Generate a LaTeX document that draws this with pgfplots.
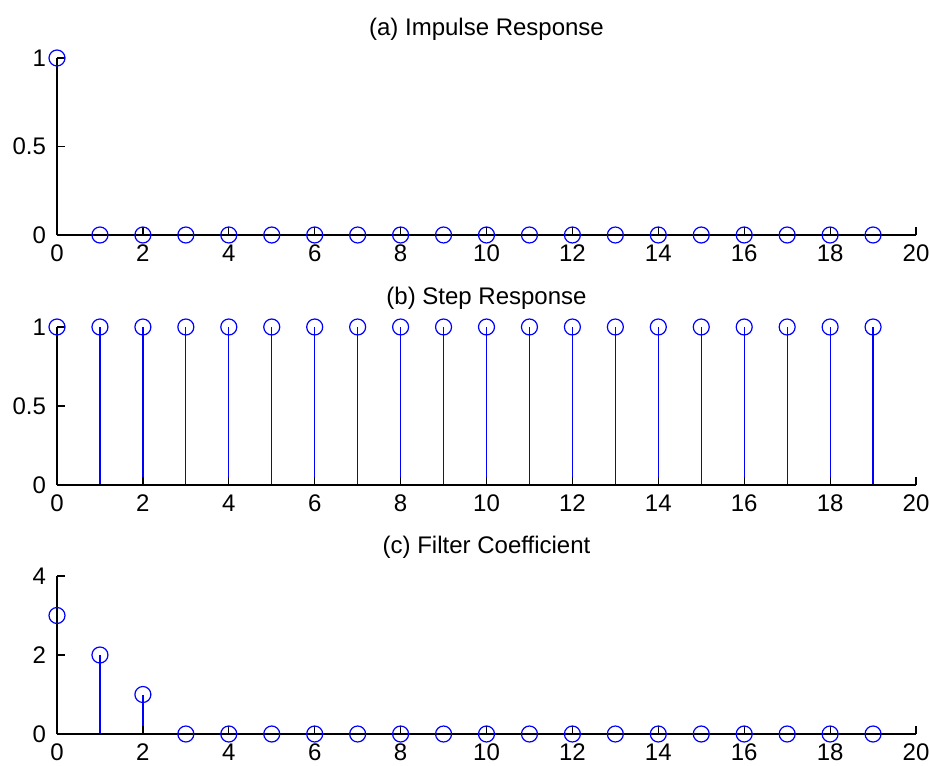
\documentclass[border=0pt]{standalone}
\usepackage{pgfplots}
\pgfplotsset{compat=1.18}
\usepackage{fontspec}
\setmainfont{Liberation Sans}

% stem data, n = 0..19
\pgfplotstableread{
n h
0 1
1 0
2 0
3 0
4 0
5 0
6 0
7 0
8 0
9 0
10 0
11 0
12 0
13 0
14 0
15 0
16 0
17 0
18 0
19 0
}\impulse
\pgfplotstableread{
n s
0 1
1 1
2 1
3 1
4 1
5 1
6 1
7 1
8 1
9 1
10 1
11 1
12 1
13 1
14 1
15 1
16 1
17 1
18 1
19 1
}\step
\pgfplotstableread{
n b
0 3
1 2
2 1
3 0
4 0
5 0
6 0
7 0
8 0
9 0
10 0
11 0
12 0
13 0
14 0
15 0
16 0
17 0
18 0
19 0
}\coeff

\definecolor{stemblue}{RGB}{0,0,255}

\pgfplotsset{
  stemax/.style={
    scale only axis,
    width=429.5pt,
    anchor=south west,
    axis on top,
    axis x line*=bottom,
    axis y line*=left,
    axis line style={black, line width=0.6pt},
    tick style={black, line width=0.6pt},
    major tick length=4pt,
    tick align=inside,
    xmin=0, xmax=20,
    xtick={0,2,...,20},
    clip=false,
    ticklabel style={font=\fontsize{12}{14}\selectfont},
    /pgf/number format/assume math mode=true,
    xticklabel style={yshift=-1.5pt},
    yticklabel style={xshift=-2pt},
    title style={font=\fontsize{12}{14}\selectfont, at={(axis description cs:0.5,1)}, anchor=center, yshift=8.5pt},
  },
  stem/.style={ycomb, color=stemblue, line width=0.6pt, mark=o, mark size=4pt,
    mark options={line width=0.6pt, fill=none}},
}

\begin{document}
\begin{tikzpicture}
\path[use as bounding box] (0,0) rectangle (464.5pt,382.5pt);

\begin{axis}[stemax, at={(28.5pt,265pt)}, height=88.5pt,
  ymin=0, ymax=1, ytick={0,0.5,1}, yticklabels={0,0.5,1},
  title={(a) Impulse Response}]
  \addplot[stem] table[x=n, y=h] {\impulse};
\end{axis}

\begin{axis}[stemax, at={(28.5pt,140pt)}, height=79pt,
  ymin=0, ymax=1, ytick={0,0.5,1}, yticklabels={0,0.5,1},
  title={(b) Step Response}]
  \addplot[stem] table[x=n, y=s] {\step};
\end{axis}

\begin{axis}[stemax, at={(28.5pt,15.5pt)}, height=79pt,
  ymin=0, ymax=4, ytick={0,2,4},
  title={(c) Filter Coefficient}]
  \addplot[stem] table[x=n, y=b] {\coeff};
\end{axis}
\end{tikzpicture}
\end{document}
